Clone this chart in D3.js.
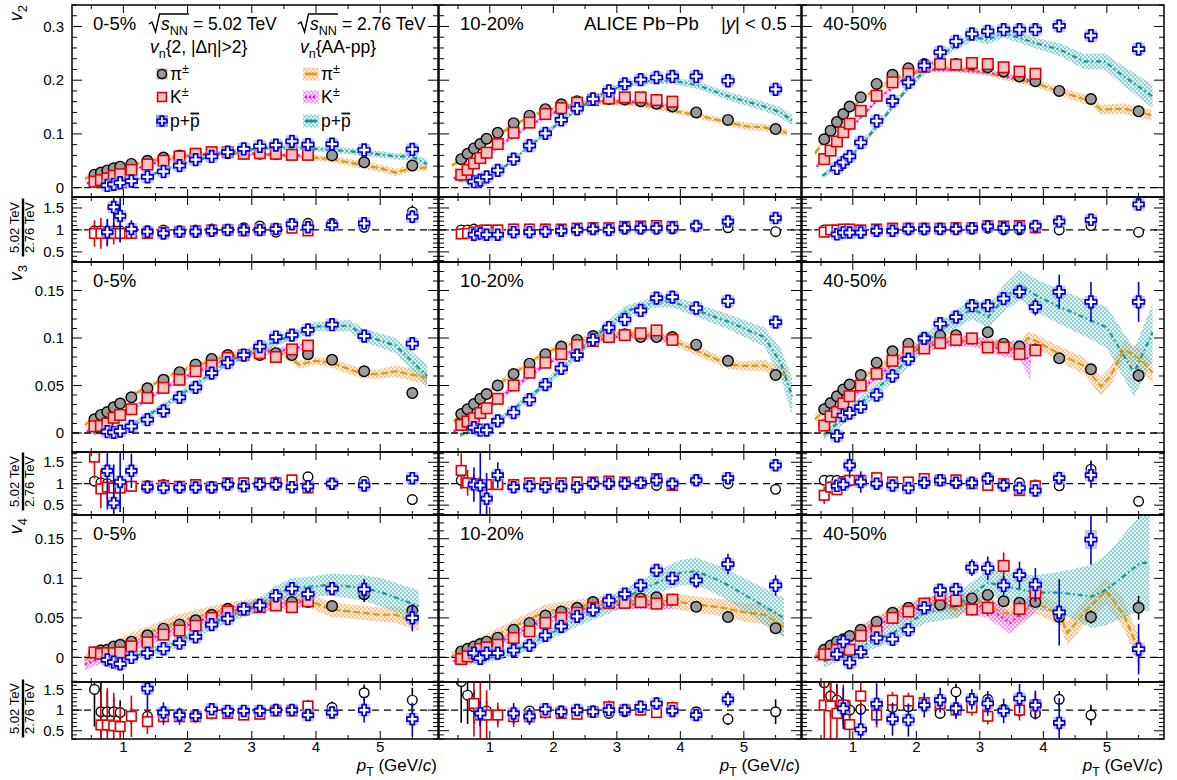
<!DOCTYPE html>
<html><head><meta charset="utf-8">
<script src="https://cdn.jsdelivr.net/npm/d3@7"></script>
<style>body{margin:0;background:#fff}svg{display:block}text{font-family:"Liberation Sans",Arial,Helvetica,sans-serif;fill:#000}</style>
</head><body><svg id="c" width="1177" height="780"></svg>
<script>
// ---------------- DATA ----------------
const ptPi = [0.55,0.65,0.75,0.85,0.95,1.125,1.375,1.625,1.875,2.125,2.375,2.625,2.875,3.125,3.375,3.625,3.875,4.25,4.75,5.5];
const ptK  = [0.55,0.65,0.75,0.85,0.95,1.125,1.375,1.625,1.875,2.125,2.375,2.625,2.875,3.125,3.375,3.625,3.875];
const ptP  = [0.75,0.85,0.95,1.125,1.375,1.625,1.875,2.125,2.375,2.625,2.875,3.125,3.375,3.625,3.875,4.25,4.75,5.5];
const centralities = ["0-5%","10-20%","40-50%"];
const xTicks = [1,2,3,4,5];

// v2, 5.02 TeV
const v2_c0_pi = [0.024,0.028,0.032,0.036,0.039,0.044,0.050,0.056,0.060,0.063,0.065,0.064,0.063,0.063,0.062,0.061,0.061,0.060,0.047,0.041];
const v2_c0_k  = [0.011,0.014,0.017,0.022,0.025,0.033,0.043,0.050,0.058,0.063,0.066,0.066,0.063,0.064,0.063,0.061,0.061];
const v2_c0_p  = [0.004,0.006,0.009,0.012,0.020,0.030,0.041,0.052,0.058,0.066,0.072,0.077,0.079,0.086,0.080,0.081,0.070,0.071];
const v2_c1_pi = [0.053,0.063,0.073,0.081,0.091,0.102,0.120,0.134,0.146,0.155,0.161,0.164,0.165,0.164,0.161,0.156,0.151,0.140,0.126,0.109];
const v2_c1_k  = [0.024,0.033,0.045,0.055,0.065,0.081,0.102,0.121,0.137,0.148,0.158,0.163,0.166,0.168,0.168,0.163,0.160];
const v2_c1_p  = [0.011,0.014,0.020,0.032,0.053,0.078,0.101,0.126,0.147,0.165,0.180,0.193,0.201,0.205,0.207,0.207,0.199,0.183];
const v2_c2_pi = [0.090,0.106,0.122,0.137,0.151,0.168,0.193,0.210,0.222,0.230,0.232,0.230,0.229,0.224,0.216,0.207,0.198,0.180,0.165,0.142];
const v2_c2_k  = [0.053,0.069,0.086,0.103,0.119,0.143,0.171,0.196,0.212,0.225,0.230,0.229,0.232,0.230,0.224,0.216,0.212];
const v2_c2_p  = [0.036,0.047,0.058,0.084,0.124,0.161,0.196,0.227,0.252,0.272,0.286,0.291,0.294,0.294,0.294,0.301,0.283,0.258];
// v3
const v3_c0_pi = [0.0145,0.019,0.022,0.027,0.031,0.0376,0.047,0.056,0.064,0.072,0.078,0.082,0.082,0.082,0.084,0.082,0.083,0.077,0.065,0.042];
const v3_c0_k  = [0.007,0.0075,0.010,0.016,0.019,0.025,0.037,0.0475,0.056,0.065,0.071,0.079,0.082,0.084,0.080,0.088,0.092];
const v3_c0_p  = [0.0014,0.0007,0.002,0.007,0.014,0.023,0.0376,0.048,0.063,0.074,0.082,0.091,0.101,0.103,0.1085,0.114,0.102,0.094];
const v3_c1_pi = [0.020,0.025,0.0305,0.036,0.041,0.050,0.062,0.073,0.083,0.091,0.098,0.102,0.104,0.104,0.101,0.101,0.101,0.093,0.076,0.061];
const v3_c1_k  = [0.0085,0.012,0.0156,0.021,0.026,0.036,0.050,0.0635,0.074,0.083,0.0926,0.097,0.101,0.103,0.105,0.108,0.098];
const v3_c1_p  = [0.0057,0.003,0.003,0.0128,0.0216,0.035,0.051,0.068,0.082,0.098,0.111,0.1195,0.129,0.142,0.143,0.1316,0.1387,0.1167];
const v3_c2_pi = [0.025,0.0316,0.0387,0.0457,0.051,0.061,0.074,0.086,0.094,0.0996,0.1025,0.103,0.0996,0.106,0.094,0.091,0.088,0.0787,0.067,0.0606];
const v3_c2_k  = [0.0078,0.0174,0.022,0.031,0.0387,0.050,0.0624,0.076,0.085,0.089,0.0947,0.098,0.0996,0.090,0.090,0.083,0.087];
const v3_c2_p  = [-0.003,0.0184,0.021,0.0273,0.040,0.060,0.0777,0.0996,0.115,0.122,0.134,0.134,0.1415,0.1486,0.1326,0.1486,0.138,0.138];
// v4
const v4_c0_pi = [0.0064,0.009,0.0097,0.014,0.016,0.020,0.028,0.0364,0.0415,0.047,0.054,0.0614,0.0614,0.0657,0.067,0.070,0.070,0.065,0.080,0.059];
const v4_c0_k  = [0.0064,0.0047,0.0055,0.0055,0.0064,0.014,0.019,0.0288,0.034,0.040,0.050,0.058,0.0606,0.0636,0.0657,0.0636,0.071];
const v4_c0_p  = [-0.003,-0.006,-0.008,0.0,0.0055,0.011,0.018,0.026,0.0415,0.049,0.0614,0.0657,0.078,0.087,0.080,0.087,0.086,0.050];
const v4_c1_pi = [0.0076,0.011,0.014,0.017,0.020,0.025,0.035,0.0436,0.053,0.058,0.0627,0.070,0.072,0.0754,0.0746,0.076,0.073,0.064,0.051,0.037];
const v4_c1_k  = [-0.002,0.0013,0.0055,0.0106,0.0127,0.016,0.0246,0.033,0.0436,0.050,0.0564,0.0627,0.069,0.069,0.070,0.068,0.073];
const v4_c1_p  = [0.0055,-0.001,0.0055,0.0055,0.009,0.0153,0.028,0.0394,0.052,0.060,0.072,0.080,0.091,0.110,0.100,0.0975,0.118,0.091];
const v4_c2_pi = [0.0097,0.015,0.020,0.023,0.027,0.035,0.045,0.0564,0.0627,0.068,0.0665,0.071,0.0746,0.079,0.071,0.069,0.070,0.051,0.051,0.0627];
const v4_c2_k  = [0.004,0.004,0.0097,0.012,0.0097,0.0275,0.033,0.050,0.058,0.068,0.079,0.072,0.0606,0.0627,0.1157,0.0614,0.0818];
const v4_c2_p  = [0.004,0.020,-0.0064,0.0068,0.0246,0.023,0.035,0.0627,0.085,0.086,0.1136,0.1127,0.091,0.104,0.092,0.057,0.149,0.0106];

// statistical errors on main panels, [index, error]
const e3_c2_pi = [[17,0.004],[18,0.006],[19,0.007]];
const e3_c2_k  = [[15,0.006],[16,0.006]];
const e3_c2_p  = [[14,0.009],[15,0.018],[16,0.021],[17,0.021]];
const e4_c0_pi = [[18,0.01],[19,0.008]];
const e4_c0_k  = [[16,0.005]];
const e4_c0_p  = [[15,0.0085],[16,0.013],[17,0.017]];
const e4_c1_pi = [[18,0.006],[19,0.007]];
const e4_c1_p  = [[13,0.006],[15,0.01],[16,0.013],[17,0.013]];
const e4_c2_pi = [[17,0.006],[18,0.0085],[19,0.015]];
const e4_c2_k  = [[12,0.008],[13,0.01],[14,0.017],[15,0.01],[16,0.012]];
const e4_c2_p  = [[10,0.0106],[11,0.015],[12,0.012],[13,0.017],[14,0.021],[15,0.042],[16,0.032],[17,0.032]];
// proton systematic boxes (half height), [index, sys]
const s2_c1_p = [[15,0.006],[16,0.006],[17,0.006]];
const s2_c2_p = [[15,0.009],[16,0.01],[17,0.01]];
const s4_c1_p = [[13,0.006],[16,0.008],[17,0.007]];
const s4_c2_p = [[10,0.006],[11,0.006],[16,0.012]];

// 2.76 TeV bands: [pT, value, half-width]
const b2_c0_pi = [[0.40,0.017,0.004],[0.75,0.033,0.004],[1.11,0.041,0.004],[1.36,0.049,0.004],[1.86,0.058,0.004],[2.36,0.063,0.004],[2.61,0.064,0.004],[3.11,0.063,0.004],[3.36,0.061,0.004],[3.86,0.057,0.005],[4.23,0.053,0.006],[4.74,0.042,0.007],[5.0,0.036,0.007],[5.24,0.028,0.007],[5.49,0.036,0.006],[5.73,0.037,0.006]];
const b2_c0_k  = [[0.43,0.008,0.003],[0.75,0.018,0.003],[1.11,0.030,0.003],[1.36,0.042,0.003],[1.86,0.056,0.003],[2.36,0.063,0.003],[2.61,0.064,0.003],[3.36,0.061,0.003],[3.86,0.059,0.003]];
const b2_c0_p  = [[0.53,0.001,0.003],[0.75,0.004,0.003],[1.11,0.012,0.003],[1.36,0.021,0.003],[1.86,0.042,0.004],[2.36,0.058,0.004],[2.61,0.066,0.004],[3.11,0.073,0.004],[3.61,0.075,0.005],[4.0,0.072,0.005],[4.5,0.068,0.006],[4.98,0.062,0.006],[5.24,0.058,0.006],[5.49,0.058,0.007],[5.73,0.044,0.008]];
const b2_c1_pi = [[0.40,0.041,0.004],[0.54,0.050,0.004],[0.74,0.066,0.004],[0.94,0.082,0.004],[1.12,0.097,0.004],[1.37,0.116,0.004],[1.62,0.131,0.004],[1.87,0.143,0.004],[2.12,0.151,0.004],[2.37,0.156,0.004],[2.62,0.159,0.005],[2.88,0.159,0.005],[3.13,0.157,0.005],[3.38,0.154,0.005],[3.63,0.149,0.005],[3.88,0.143,0.005],[4.26,0.135,0.006],[4.76,0.121,0.006],[5.05,0.114,0.007],[5.32,0.112,0.007],[5.68,0.102,0.007]];
const b2_c1_k  = [[0.43,0.017,0.004],[0.74,0.040,0.004],[1.12,0.075,0.004],[1.62,0.116,0.004],[2.12,0.146,0.004],[2.62,0.160,0.004],[2.88,0.162,0.004],[3.13,0.160,0.004],[3.38,0.158,0.004],[3.63,0.154,0.004],[3.88,0.150,0.004]];
const b2_c1_p  = [[0.50,0.014,0.004],[0.74,0.011,0.004],[1.11,0.027,0.004],[1.37,0.052,0.004],[1.87,0.101,0.005],[2.37,0.145,0.005],[2.88,0.182,0.006],[3.38,0.198,0.006],[3.88,0.199,0.006],[4.26,0.191,0.007],[4.76,0.170,0.008],[5.32,0.151,0.009],[5.58,0.140,0.01],[5.76,0.125,0.01]];
const b2_c2_pi = [[0.405,0.064,0.005],[0.64,0.101,0.005],[1.13,0.165,0.005],[1.63,0.202,0.005],[2.13,0.221,0.005],[2.63,0.222,0.005],[3.13,0.214,0.006],[3.38,0.206,0.006],[3.88,0.194,0.007],[4.26,0.179,0.008],[4.77,0.160,0.009],[4.91,0.145,0.009],[5.27,0.147,0.01],[5.70,0.135,0.01]];
const b2_c2_k  = [[0.43,0.039,0.004],[0.85,0.095,0.004],[1.38,0.163,0.004],[1.88,0.210,0.004],[2.13,0.219,0.004],[2.63,0.219,0.004],[3.13,0.214,0.004],[3.63,0.202,0.005],[3.88,0.198,0.005]];
const b2_c2_p  = [[0.52,0.022,0.005],[0.95,0.055,0.005],[1.38,0.114,0.006],[1.88,0.188,0.006],[2.38,0.247,0.007],[2.88,0.281,0.008],[3.13,0.275,0.008],[3.38,0.288,0.009],[3.88,0.269,0.01],[4.26,0.257,0.012],[4.64,0.235,0.014],[4.96,0.235,0.015],[5.27,0.207,0.018],[5.72,0.170,0.022]];
const b3_c0_pi = [[0.40,0.0085,0.003],[1.11,0.039,0.003],[1.86,0.065,0.003],[2.61,0.081,0.004],[3.36,0.088,0.004],[3.61,0.078,0.004],[3.74,0.072,0.004],[4.0,0.076,0.004],[4.23,0.074,0.005],[4.74,0.062,0.005],[4.98,0.062,0.005],[5.24,0.065,0.006],[5.73,0.058,0.007]];
const b3_c0_k  = [[0.43,0.0014,0.003],[1.11,0.0245,0.003],[1.86,0.056,0.003],[2.61,0.078,0.003],[3.11,0.085,0.003],[3.61,0.088,0.004],[3.86,0.092,0.004]];
const b3_c0_p  = [[0.53,0.0,0.003],[1.11,0.007,0.003],[1.86,0.0387,0.004],[2.61,0.074,0.004],[3.11,0.090,0.005],[3.61,0.102,0.005],[4.0,0.112,0.005],[4.52,0.113,0.006],[4.74,0.103,0.007],[5.24,0.092,0.008],[5.73,0.060,0.012]];
const b3_c1_pi = [[0.43,0.012,0.003],[1.12,0.051,0.003],[1.87,0.085,0.003],[2.62,0.101,0.004],[3.13,0.106,0.004],[3.63,0.102,0.004],[3.88,0.097,0.004],[4.26,0.0865,0.005],[4.76,0.072,0.005],[5.0,0.0706,0.005],[5.32,0.071,0.006],[5.68,0.060,0.007]];
const b3_c1_k  = [[0.43,0.0014,0.003],[1.12,0.035,0.003],[1.87,0.072,0.003],[2.62,0.097,0.003],[3.13,0.103,0.003],[3.63,0.101,0.004],[3.88,0.097,0.004]];
const b3_c1_p  = [[0.53,-0.002,0.003],[1.12,0.012,0.003],[1.87,0.051,0.004],[2.62,0.099,0.005],[3.13,0.128,0.006],[3.63,0.138,0.006],[3.88,0.138,0.006],[4.26,0.129,0.007],[4.76,0.117,0.008],[5.32,0.101,0.01],[5.58,0.074,0.015],[5.76,0.0387,0.02]];
const b3_c2_pi = [[0.405,0.0145,0.004],[1.13,0.058,0.004],[1.88,0.088,0.004],[2.38,0.097,0.005],[2.88,0.097,0.005],[3.38,0.092,0.006],[3.63,0.088,0.006],[3.75,0.100,0.007],[3.88,0.097,0.007],[4.26,0.083,0.008],[4.64,0.0706,0.009],[4.91,0.049,0.01],[5.06,0.060,0.01],[5.27,0.088,0.01],[5.52,0.078,0.011],[5.72,0.0635,0.012]];
const b3_c2_k  = [[0.46,0.0085,0.004],[1.13,0.046,0.004],[1.88,0.085,0.005],[2.38,0.095,0.005],[2.88,0.097,0.006],[3.13,0.092,0.007],[3.38,0.088,0.008],[3.63,0.088,0.01],[3.80,0.075,0.02]];
const b3_c2_p  = [[0.54,-0.002,0.006],[1.13,0.0316,0.007],[1.63,0.0617,0.008],[2.13,0.095,0.009],[2.63,0.12,0.01],[2.88,0.131,0.011],[3.13,0.122,0.012],[3.38,0.1415,0.014],[3.63,0.156,0.016],[3.88,0.145,0.017],[4.26,0.1326,0.018],[4.77,0.118,0.02],[5.0,0.111,0.022],[5.43,0.0635,0.025],[5.72,0.106,0.03]];
const b4_c0_pi = [[0.40,-0.003,0.007],[1.11,0.0225,0.008],[1.86,0.046,0.009],[2.61,0.0606,0.009],[3.36,0.069,0.009],[3.86,0.073,0.009],[4.23,0.0606,0.009],[4.74,0.0564,0.009],[4.98,0.054,0.009],[5.24,0.054,0.01],[5.60,0.0436,0.01]];
const b4_c0_k  = [[0.40,-0.009,0.007],[1.11,0.014,0.007],[1.86,0.037,0.007],[2.61,0.058,0.007],[3.36,0.067,0.007],[3.86,0.071,0.007]];
const b4_c0_p  = [[1.0,0.0,0.005],[1.36,0.0055,0.005],[1.86,0.020,0.006],[2.61,0.052,0.008],[3.11,0.0657,0.009],[3.36,0.080,0.01],[3.61,0.088,0.012],[4.0,0.090,0.013],[4.23,0.092,0.014],[4.74,0.088,0.016],[5.03,0.082,0.018],[5.60,0.065,0.02]];
const b4_c1_pi = [[0.40,0.0013,0.007],[1.12,0.029,0.008],[1.87,0.058,0.009],[2.62,0.067,0.009],[3.13,0.071,0.009],[3.88,0.071,0.01],[4.26,0.067,0.01],[4.68,0.0627,0.011],[5.05,0.0564,0.012],[5.32,0.054,0.012],[5.63,0.039,0.013]];
const b4_c1_k  = [[0.43,-0.005,0.006],[1.12,0.018,0.006],[1.87,0.048,0.006],[2.62,0.065,0.006],[3.13,0.067,0.006],[3.63,0.067,0.006],[3.88,0.067,0.006]];
const b4_c1_p  = [[0.50,-0.005,0.006],[1.12,0.002,0.006],[1.62,0.016,0.007],[2.37,0.048,0.009],[3.13,0.0754,0.012],[3.63,0.0945,0.014],[4.0,0.107,0.016],[4.26,0.109,0.017],[4.68,0.0945,0.019],[5.05,0.0775,0.021],[5.63,0.050,0.025]];
const b4_c2_pi = [[0.405,0.0013,0.006],[1.13,0.034,0.007],[1.63,0.056,0.008],[2.13,0.0657,0.009],[2.38,0.071,0.01],[2.63,0.060,0.011],[2.88,0.075,0.012],[3.38,0.056,0.012],[3.63,0.056,0.013],[3.88,0.069,0.013],[4.26,0.054,0.014],[4.38,0.031,0.015],[4.64,0.056,0.016],[4.99,0.084,0.017],[5.27,0.054,0.018],[5.54,0.001,0.02]];
const b4_c2_k  = [[0.43,0.0013,0.008],[1.13,0.031,0.009],[1.63,0.050,0.01],[2.13,0.065,0.011],[2.63,0.071,0.012],[3.13,0.0627,0.013],[3.48,0.0436,0.014],[3.88,0.073,0.015]];
const b4_c2_p  = [[0.54,-0.005,0.008],[1.13,0.014,0.009],[1.63,0.031,0.011],[2.13,0.056,0.013],[2.63,0.065,0.015],[3.13,0.0945,0.017],[3.38,0.090,0.018],[3.88,0.082,0.022],[4.26,0.082,0.026],[4.77,0.077,0.04],[5.0,0.086,0.045],[5.52,0.119,0.06],[5.67,0.120,0.062]];

// ratios 5.02 / 2.76
const r2_c0_pi = [0.98,0.98,0.98,0.98,0.98,0.96,0.98,1.0,0.98,1.0,1.02,1.0,1.05,1.09,0.95,1.14,1.15,1.15,1.06,1.41];
const r2_c0_k  = [0.92,0.92,0.92,0.92,0.92,0.92,0.92,0.95,0.96,0.98,1.0,1.0,0.98,1.0,1.02,1.04,0.98];
const r2_c0_p  = [0.95,1.52,1.32,1.02,0.96,0.92,0.96,0.96,0.98,1.0,1.0,1.0,1.02,1.13,1.06,1.11,1.15,1.30];
const r2_c1_pi = [1.0,1.0,1.02,1.0,1.0,1.0,1.02,1.02,1.02,1.0,1.02,1.02,1.02,1.02,1.02,1.02,1.02,1.08,1.05,0.96];
const r2_c1_k  = [0.91,0.92,0.95,0.98,1.0,1.0,1.02,1.02,1.02,1.02,1.04,1.05,1.05,1.08,1.09,1.1,1.08];
const r2_c1_p  = [0.89,0.92,0.89,0.89,0.95,0.95,0.96,0.98,1.0,1.02,1.0,1.04,1.04,1.04,1.05,1.09,1.19,1.27];
const r2_c2_pi = [1.0,1.0,1.0,1.0,1.0,1.0,1.0,1.0,1.0,1.0,1.02,1.02,1.02,1.04,1.0,1.0,1.04,1.0,1.1,0.95];
const r2_c2_k  = [0.95,1.0,1.0,1.02,1.02,1.0,1.02,1.04,1.04,1.04,1.04,1.05,1.05,1.1,1.09,1.1,1.05];
const r2_c2_p  = [0.9,0.94,0.94,0.94,0.98,0.98,1.02,1.02,1.02,1.02,1.04,1.08,1.04,1.05,1.09,1.19,1.23,1.58];
const r3_c0_pi = [1.06,1.02,1.0,0.96,0.96,0.94,0.96,0.98,0.94,0.94,0.94,1.02,1.02,1.0,1.04,1.08,1.16,1.0,1.06,0.63];
const r3_c0_k  = [1.62,0.88,0.92,0.9,0.9,0.94,0.94,0.96,0.94,0.98,0.92,1.02,1.02,1.02,1.02,1.09,0.9];
const r3_c0_p  = [1.3,0.55,1.04,1.3,0.92,0.9,0.91,0.91,0.91,0.98,0.94,0.98,0.98,0.92,0.94,1.0,0.96,1.13];
const r3_c1_pi = [1.08,1.02,1.0,0.98,0.98,0.98,0.98,0.98,1.0,1.0,1.0,1.02,1.0,1.02,1.0,0.96,0.98,1.08,1.0,0.87];
const r3_c1_k  = [1.31,1.02,1.0,0.96,0.98,0.98,0.98,1.02,1.02,1.02,1.04,1.04,1.06,1.04,1.02,1.12,0.96];
const r3_c1_p  = [0.98,0.96,0.65,1.2,0.92,0.94,0.92,0.94,0.92,1.0,1.0,1.0,1.02,1.08,1.0,1.08,1.13,1.43];
const r3_c2_pi = [1.08,1.08,1.08,1.06,1.06,1.06,1.0,1.0,1.0,1.02,1.08,1.02,1.02,1.13,1.0,1.02,0.97,0.95,1.34,0.59];
const r3_c2_k  = [0.73,0.92,0.86,1.02,1.08,1.08,1.14,1.04,1.04,1.12,1.08,1.09,1.0,0.96,1.0,0.84,0.95];
const r3_c2_p  = [0.95,0.98,1.43,1.04,1.0,0.96,0.9,1.02,1.08,1.02,1.02,1.12,0.96,0.9,0.84,1.13,1.2,null];
const r4_c0_pi = [1.5,0.96,0.96,0.96,0.94,0.86,0.85,0.94,0.88,0.88,0.92,0.96,0.98,0.98,1.02,0.98,1.04,1.06,1.42,1.24];
const r4_c0_k  = [null,0.64,0.64,0.62,0.6,0.85,0.72,0.84,0.84,0.84,0.92,0.92,0.88,0.9,0.98,0.98,1.1];
const r4_c0_p  = [null,null,null,null,1.52,0.94,0.88,0.86,1.02,0.98,0.98,0.98,1.0,1.0,0.88,0.94,1.0,0.78];
const r4_c1_pi = [1.69,1.36,1.08,0.92,0.98,0.88,0.92,0.98,0.98,0.98,0.92,0.98,0.92,0.96,1.0,1.02,1.0,0.96,0.78,0.96];
const r4_c1_k  = [null,null,1.16,0.88,0.88,0.88,0.84,0.84,0.94,0.92,0.9,0.96,1.08,1.0,1.0,0.94,1.06];
const r4_c1_p  = [null,0.92,null,null,0.92,0.85,1.02,0.96,1.0,0.96,1.0,1.0,1.08,1.16,0.98,0.88,1.26,null];
const r4_c2_pi = [1.66,1.34,1.24,1.0,1.0,1.02,1.06,1.06,1.08,1.12,0.92,1.44,1.12,1.26,1.02,0.98,0.92,1.26,0.88,null];
const r4_c2_k  = [1.12,1.1,0.92,1.12,0.65,1.34,0.88,1.24,1.22,1.18,1.15,1.0,1.06,0.85,null,1.0,1.12];
const r4_c2_p  = [null,1.04,null,0.53,1.15,0.78,0.76,1.12,1.24,1.04,1.26,1.16,0.98,1.28,1.12,0.69,null,null];
// ratio errors [index, error]
const re2_c0_pi = [[0,0.1],[15,0.05],[16,0.06],[17,0.06],[18,0.12],[19,0.15]];
const re2_c0_k  = [[0,0.3],[1,0.35],[2,0.3],[3,0.25],[4,0.2],[5,0.1]];
const re2_c0_p  = [[0,0.3],[1,0.5],[2,0.6],[3,0.2],[4,0.1],[17,0.15]];
const re2_c1_pi = [[19,0.05]];
const re2_c1_k  = [[0,0.08]];
const re2_c1_p  = [[0,0.15],[1,0.1],[2,0.08]];
const re2_c2_pi = [];
const re2_c2_k  = [];
const re2_c2_p  = [[0,0.06],[1,0.05]];
const re3_c0_pi = [[0,0.1],[17,0.05],[18,0.08],[19,0.1]];
const re3_c0_k  = [[0,0.5],[1,0.45],[2,0.3],[3,0.25],[4,0.2]];
const re3_c0_p  = [[0,0.9],[1,0.9],[2,0.7],[3,0.4],[4,0.15],[5,0.08],[17,0.12]];
const re3_c1_pi = [[0,0.2],[1,0.1],[19,0.08]];
const re3_c1_k  = [[0,0.4],[1,0.3],[2,0.2],[3,0.2]];
const re3_c1_p  = [[0,0.4],[1,0.9],[2,0.6],[3,0.3],[17,0.12]];
const re3_c2_pi = [[17,0.05],[18,0.2],[19,0.1]];
const re3_c2_k  = [[0,0.2],[1,0.15],[2,0.12],[15,0.1]];
const re3_c2_p  = [[2,0.3],[3,0.25],[14,0.1],[15,0.15],[16,0.3]];
const re4_c0_pi = [[0,0.9],[1,0.7],[2,0.5],[3,0.35],[4,0.3],[5,0.2],[6,0.15],[7,0.12],[17,0.15],[18,0.2],[19,0.3]];
const re4_c0_k  = [[1,0.8],[2,0.9],[3,0.8],[4,0.5],[5,0.5],[6,0.3],[7,0.2],[8,0.2],[9,0.15],[10,0.15],[11,0.12],[12,0.12],[13,0.12],[14,0.12],[15,0.12],[16,0.15]];
const re4_c0_p  = [[4,0.5],[5,0.25],[6,0.18],[7,0.15],[8,0.12],[15,0.12],[16,0.3],[17,0.4]];
const re4_c1_pi = [[0,1.0],[1,0.7],[2,0.4],[3,0.3],[4,0.25],[5,0.2],[17,0.1],[18,0.15],[19,0.3]];
const re4_c1_k  = [[2,0.8],[3,0.8],[4,0.6],[5,0.3],[6,0.25],[7,0.2],[8,0.15],[9,0.12],[10,0.12],[11,0.12],[12,0.15],[13,0.12],[14,0.12],[15,0.12],[16,0.15]];
const re4_c1_p  = [[1,0.3],[4,0.25],[5,0.2],[6,0.15],[12,0.12],[13,0.15],[15,0.15],[16,0.2]];
const re4_c2_pi = [[0,0.6],[1,0.5],[2,0.4],[3,0.3],[4,0.2],[5,0.15],[11,0.2],[17,0.2],[18,0.25]];
const re4_c2_k  = [[0,0.8],[1,0.8],[2,0.6],[3,0.5],[4,0.6],[5,0.4],[6,0.3],[7,0.2],[8,0.2],[9,0.15],[10,0.15],[11,0.2],[12,0.2],[13,0.2],[15,0.25],[16,0.3]];
const re4_c2_p  = [[1,0.5],[3,0.5],[4,0.5],[5,0.4],[6,0.4],[7,0.3],[8,0.3],[9,0.25],[10,0.25],[11,0.3],[12,0.3],[13,0.35],[14,0.35],[15,0.6]];

// ---------------- TABLES built from arrays ----------------
const MAIN = [
  [[v2_c0_pi,v2_c0_k,v2_c0_p],[v2_c1_pi,v2_c1_k,v2_c1_p],[v2_c2_pi,v2_c2_k,v2_c2_p]],
  [[v3_c0_pi,v3_c0_k,v3_c0_p],[v3_c1_pi,v3_c1_k,v3_c1_p],[v3_c2_pi,v3_c2_k,v3_c2_p]],
  [[v4_c0_pi,v4_c0_k,v4_c0_p],[v4_c1_pi,v4_c1_k,v4_c1_p],[v4_c2_pi,v4_c2_k,v4_c2_p]]];
const MAINERR = [
  [[[],[],[]],[[],[],[]],[[],[],[]]],
  [[[],[],[]],[[],[],[]],[e3_c2_pi,e3_c2_k,e3_c2_p]],
  [[e4_c0_pi,e4_c0_k,e4_c0_p],[e4_c1_pi,[],e4_c1_p],[e4_c2_pi,e4_c2_k,e4_c2_p]]];
const PSYS = [[[],s2_c1_p,s2_c2_p],[[],[],[]],[[],s4_c1_p,s4_c2_p]];
const BANDS = [
  [[b2_c0_pi,b2_c0_k,b2_c0_p],[b2_c1_pi,b2_c1_k,b2_c1_p],[b2_c2_pi,b2_c2_k,b2_c2_p]],
  [[b3_c0_pi,b3_c0_k,b3_c0_p],[b3_c1_pi,b3_c1_k,b3_c1_p],[b3_c2_pi,b3_c2_k,b3_c2_p]],
  [[b4_c0_pi,b4_c0_k,b4_c0_p],[b4_c1_pi,b4_c1_k,b4_c1_p],[b4_c2_pi,b4_c2_k,b4_c2_p]]];
const RATIO = [
  [[r2_c0_pi,r2_c0_k,r2_c0_p],[r2_c1_pi,r2_c1_k,r2_c1_p],[r2_c2_pi,r2_c2_k,r2_c2_p]],
  [[r3_c0_pi,r3_c0_k,r3_c0_p],[r3_c1_pi,r3_c1_k,r3_c1_p],[r3_c2_pi,r3_c2_k,r3_c2_p]],
  [[r4_c0_pi,r4_c0_k,r4_c0_p],[r4_c1_pi,r4_c1_k,r4_c1_p],[r4_c2_pi,r4_c2_k,r4_c2_p]]];
const RATIOERR = [
  [[re2_c0_pi,re2_c0_k,re2_c0_p],[re2_c1_pi,re2_c1_k,re2_c1_p],[re2_c2_pi,re2_c2_k,re2_c2_p]],
  [[re3_c0_pi,re3_c0_k,re3_c0_p],[re3_c1_pi,re3_c1_k,re3_c1_p],[re3_c2_pi,re3_c2_k,re3_c2_p]],
  [[re4_c0_pi,re4_c0_k,re4_c0_p],[re4_c1_pi,re4_c1_k,re4_c1_p],[re4_c2_pi,re4_c2_k,re4_c2_p]]];
const PTS = [ptPi, ptK, ptP];

// ---------------- LAYOUT / STYLE ----------------
const cols = [{x0:72,x1:438},{x0:439,x1:801},{x0:802,x1:1164}];
const xDomain = [0.2, 5.9];
const rows = [
  {n:'2', y0:5,   y1:197, dom:[-0.0175,0.34], major:0.1,  minor:0.02, r:{y0:197,y1:262,dom:[0.27,1.75]}},
  {n:'3', y0:262, y1:452, dom:[-0.02,0.18],   major:0.05, minor:0.01, r:{y0:452,y1:515,dom:[0.27,1.74]}},
  {n:'4', y0:515, y1:682, dom:[-0.031,0.18],  major:0.05, minor:0.01, r:{y0:682,y1:739,dom:[0.30,1.68]}}];
const SP = [
  {band:'#f7a050', line:'#d89d12', dash:'7,3',     pat:'patPi', col:'#000'},
  {band:'#ee55ee', line:'#e012e0', dash:'2,3',     pat:'patK',  col:'#e00000'},
  {band:'#55b8b8', line:'#129898', dash:'5,3,1.5,3', pat:'patP', col:'#0000dd'}];

const svg = d3.select('#c');
const defs = svg.append('defs');
function makePat(id, color){
  const p = defs.append('pattern').attr('id',id).attr('patternUnits','userSpaceOnUse').attr('width',4).attr('height',4);
  p.append('rect').attr('width',4).attr('height',4).attr('fill',color).attr('opacity',0.18);
  p.append('rect').attr('width',2).attr('height',2).attr('fill',color).attr('opacity',0.55);
  p.append('rect').attr('x',2).attr('y',2).attr('width',2).attr('height',2).attr('fill',color).attr('opacity',0.55);
}
SP.forEach(s=>makePat(s.pat, s.band));

function expand(n, list){ const a = new Array(n).fill(0); list.forEach(([i,e])=>{a[i]=e;}); return a; }
function crossPath(a,b){ return `M${-b},${-a}L${b},${-a}L${b},${-b}L${a},${-b}L${a},${b}L${b},${b}L${b},${a}L${-b},${a}L${-b},${b}L${-a},${b}L${-a},${-b}L${-b},${-b}Z`; }

function rich(g, x, y, parts, size, anchor){
  const t = g.append('text').attr('x',x).attr('y',y).attr('font-size',size).attr('text-anchor',anchor||'start');
  let shift = 0;
  parts.forEach(p=>{
    const target = p.sub ? size*0.3 : (p.sup ? -size*0.42 : 0);
    const ts = t.append('tspan').text(p.t).attr('dy', target-shift);
    shift = target;
    if (p.sub || p.sup) ts.attr('font-size', size*0.72);
    if (p.i) ts.attr('font-style','italic');
  });
  return t;
}

function tickList(d0,d1,step){
  const out=[]; const i0=Math.ceil(d0/step-1e-6), i1=Math.floor(d1/step+1e-6);
  for(let i=i0;i<=i1;i++) out.push(+(i*step).toFixed(6));
  return out;
}
function isMajor(v,major){ const q=v/major; return Math.abs(q-Math.round(q))<1e-6; }

function drawMarker(g, sp, cx, cy, ratio, scale){
  const k = scale||1;
  if (sp===0){
    g.append('circle').attr('cx',cx).attr('cy',cy).attr('r',(ratio?4.8:5.3)*k)
      .attr('fill',ratio?'#fff':'#9b9b9b').attr('stroke','#000').attr('stroke-width',1.4);
  } else if (sp===1){
    const s = (ratio?9.5:10.5)*k;
    g.append('rect').attr('x',cx-s/2).attr('y',cy-s/2).attr('width',s).attr('height',s)
      .attr('fill',ratio?'#fff':'#f8c2c2').attr('stroke','#e00000').attr('stroke-width',1.6);
  } else {
    g.append('path').attr('d',crossPath((ratio?5.4:5.8)*k,2.0*k)).attr('transform',`translate(${cx},${cy})`)
      .attr('fill','#fff').attr('stroke','#0000dd').attr('stroke-width',1.7);
  }
}

function drawPad(ci, ri, isRatio){
  const c = cols[ci], R = rows[ri];
  const y0 = isRatio?R.r.y0:R.y0, y1 = isRatio?R.r.y1:R.y1, dom = isRatio?R.r.dom:R.dom;
  const x = d3.scaleLinear().domain(xDomain).range([c.x0,c.x1]);
  const y = d3.scaleLinear().domain(dom).range([y1,y0]);
  const cid = `clip${ci}${ri}${isRatio?'r':'m'}`;
  defs.append('clipPath').attr('id',cid).append('rect').attr('x',c.x0).attr('y',y0).attr('width',c.x1-c.x0).attr('height',y1-y0);
  const g = svg.append('g').attr('clip-path',`url(#${cid})`);

  if (!isRatio){
    const bands = BANDS[ri][ci];
    bands.forEach((b,si)=>{
      const area = d3.area().x(d=>x(d[0])).y0(d=>y(d[1]-d[2])).y1(d=>y(d[1]+d[2]));
      g.append('path').attr('d',area(b)).attr('fill',`url(#${SP[si].pat})`);
    });
    bands.forEach((b,si)=>{
      const line = d3.line().x(d=>x(d[0])).y(d=>y(d[1]));
      g.append('path').attr('d',line(b)).attr('fill','none').attr('stroke',SP[si].line)
        .attr('stroke-width',2.2).attr('stroke-dasharray',SP[si].dash);
    });
  }
  const refV = isRatio?1:0;
  g.append('line').attr('x1',c.x0).attr('x2',c.x1).attr('y1',y(refV)).attr('y2',y(refV))
    .attr('stroke','#000').attr('stroke-width',1.3).attr('stroke-dasharray','7,5');

  for (let si=0; si<3; si++){
    const vals = isRatio ? RATIO[ri][ci][si] : MAIN[ri][ci][si];
    const errs = expand(vals.length, isRatio ? RATIOERR[ri][ci][si] : MAINERR[ri][ci][si]);
    const sys = si===2 && !isRatio ? expand(vals.length, PSYS[ri][ci]) : null;
    const pts = PTS[si];
    vals.forEach((v,i)=>{
      if (v===null || v===undefined) return;
      const cx = x(pts[i]), cy = y(v);
      if (si===2){
        const hh = sys && sys[i] ? Math.max(6, Math.abs(y(v+sys[i])-cy)) : 6;
        g.append('rect').attr('x',cx-6).attr('y',cy-hh).attr('width',12).attr('height',2*hh)
          .attr('fill','#9c9cff').attr('opacity',0.6);
      }
      if (si===1 && isRatio){
        g.append('rect').attr('x',cx-6).attr('y',cy-6).attr('width',12).attr('height',12)
          .attr('fill','#f6b5b5').attr('opacity',0.45);
      }
      if (errs[i]>0){
        g.append('line').attr('x1',cx).attr('x2',cx).attr('y1',y(v-errs[i])).attr('y2',y(v+errs[i]))
          .attr('stroke',SP[si].col).attr('stroke-width',1.6);
      }
      drawMarker(g, si, cx, cy, isRatio);
    });
  }

  const fr = svg.append('g');
  fr.append('rect').attr('x',c.x0).attr('y',y0).attr('width',c.x1-c.x0).attr('height',y1-y0)
    .attr('fill','none').attr('stroke','#000').attr('stroke-width',1.5);
  tickList(0.5,5.5,0.5).forEach(t=>{
    const L = isMajor(t,1)?8:4, xx=x(t);
    fr.append('line').attr('x1',xx).attr('x2',xx).attr('y1',y1).attr('y2',y1-L).attr('stroke','#000');
    fr.append('line').attr('x1',xx).attr('x2',xx).attr('y1',y0).attr('y2',y0+L).attr('stroke','#000');
  });
  const major = isRatio?0.5:R.major, minor = isRatio?0.1:R.minor;
  tickList(dom[0],dom[1],minor).forEach(t=>{
    const mj = isMajor(t,major), L = mj?10:5, yy=y(t);
    fr.append('line').attr('x1',c.x0).attr('x2',c.x0+L).attr('y1',yy).attr('y2',yy).attr('stroke','#000');
    fr.append('line').attr('x1',c.x1).attr('x2',c.x1-L).attr('y1',yy).attr('y2',yy).attr('stroke','#000');
    if (mj && ci===0){
      fr.append('text').attr('x',64).attr('y',yy+5.2).attr('text-anchor','end').attr('font-size',15)
        .text(String(+t.toFixed(3)));
    }
  });
  if (isRatio && ri===2){
    xTicks.forEach(t=>{
      fr.append('text').attr('x',x(t)).attr('y',751.5).attr('text-anchor','middle').attr('font-size',15).text(String(t));
    });
    rich(fr, c.x1-1, 771, [{t:'p',i:true},{t:'T',sub:true},{t:' (GeV/'},{t:'c',i:true},{t:')'}], 17, 'end');
  }
  if (!isRatio){
    fr.append('text').attr('x', c.x0+21).attr('y', y0+25).attr('font-size',18.5).text(centralities[ci]);
  }
}

for (let ri=0; ri<3; ri++) for (let ci=0; ci<3; ci++){ drawPad(ci,ri,false); drawPad(ci,ri,true); }

// axis titles
rows.forEach((R,ri)=>{
  const yt = [5,265,518][ri];
  const tg = svg.append('g').attr('transform',`translate(22,${yt}) rotate(-90)`);
  rich(tg, 0, 0, [{t:'v',i:true},{t:R.n,sub:true}], 18, 'end');
  const yc = (R.r.y0+R.r.y1)/2 - 2;
  const fg = svg.append('g').attr('transform',`translate(23,${yc}) rotate(-90)`);
  fg.append('text').attr('x',0).attr('y',-4).attr('text-anchor','middle').attr('font-size',13).text('5.02 TeV');
  fg.append('line').attr('x1',-29).attr('x2',29).attr('y1',0).attr('y2',0).attr('stroke','#000').attr('stroke-width',2.4);
  fg.append('text').attr('x',0).attr('y',11).attr('text-anchor','middle').attr('font-size',13).text('2.76 TeV');
});

// header texts
const hdr = svg.append('g');
function sqrtLabel(x0, base, energy){
  const fs = 17.5;
  const t = rich(hdr, x0+12, base, [{t:'s',i:true},{t:'NN',sub:true}], fs);
  const w = t.node().getComputedTextLength();
  hdr.append('path').attr('d',`M${x0},${base-6} L${x0+3},${base-8} L${x0+6.5},${base+2} L${x0+10.5},${base-16} L${x0+12+w+1},${base-16}`)
    .attr('fill','none').attr('stroke','#000').attr('stroke-width',1.4);
  hdr.append('text').attr('x',x0+12+w+5).attr('y',base).attr('font-size',fs).text('= '+energy+' TeV');
}
sqrtLabel(149, 30, '5.02');
sqrtLabel(298, 30, '2.76');
rich(hdr, 150, 53, [{t:'v',i:true},{t:'n',sub:true},{t:'{2, |Δη|>2}'}], 17.5);
rich(hdr, 300, 53, [{t:'v',i:true},{t:'n',sub:true},{t:'{AA-pp}'}], 17.5);
hdr.append('text').attr('x',584).attr('y',30).attr('font-size',18.5).text('ALICE Pb\u2212Pb');
rich(hdr, 721, 30, [{t:'|'},{t:'y',i:true},{t:'| < 0.5'}], 18.5);

// legend
const legRows = [{y:74,lab:[{t:'π'},{t:'±',sup:true}]},{y:97,lab:[{t:'K'},{t:'±',sup:true}]},{y:121,lab:[{t:'p+p'}]}];
legRows.forEach((r,si)=>{
  if (si===0) hdr.append('rect').attr('x',162-5.5).attr('y',r.y-5.5).attr('width',11).attr('height',11).attr('fill','#777').attr('opacity',0.6);
  if (si===2) hdr.append('rect').attr('x',162-6).attr('y',r.y-6).attr('width',12).attr('height',12).attr('fill','#6b6bff').attr('opacity',0.7);
  drawMarker(hdr, si, 162, r.y, false, 0.85);
  const t1 = rich(hdr, 170, r.y+6, r.lab, 17.5);
  hdr.append('rect').attr('x',303).attr('y',r.y-6.5).attr('width',16).attr('height',13).attr('fill',`url(#${SP[si].pat})`);
  hdr.append('line').attr('x1',305).attr('x2',317).attr('y1',r.y).attr('y2',r.y).attr('stroke',SP[si].line).attr('stroke-width',2.8).attr('stroke-dasharray',si===1?'2,2':'none');
  const t2 = rich(hdr, 321, r.y+6, r.lab, 17.5);
  if (si===2){
    [t1,t2].forEach(t=>{
      const bb = t.node().getBBox();
      const pw = 17.5*0.556;
      hdr.append('line').attr('x1',bb.x+bb.width-pw+0.5).attr('x2',bb.x+bb.width-0.5)
        .attr('y1',r.y+6-13.5).attr('y2',r.y+6-13.5).attr('stroke','#000').attr('stroke-width',1.8);
    });
  }
});
</script></body></html>
